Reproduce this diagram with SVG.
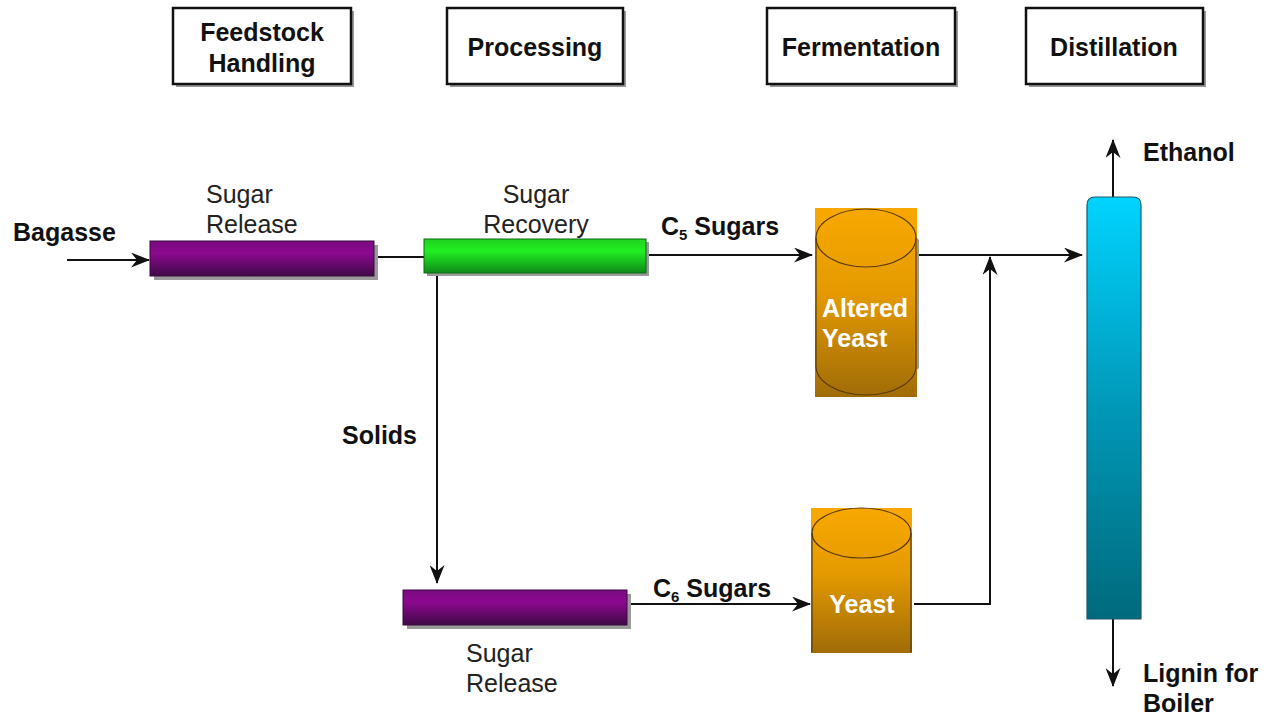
<svg xmlns="http://www.w3.org/2000/svg" width="1270" height="717" viewBox="0 0 1270 717">
<style>
.b{font-family:"Liberation Sans",Arial,sans-serif;font-weight:bold;font-size:25px;fill:#111}
.r{font-family:"Liberation Sans",Arial,sans-serif;font-size:25px;fill:#222}
.w{font-family:"Liberation Sans",Arial,sans-serif;font-weight:bold;font-size:25px;fill:#fff}
.hdr{fill:#fff;stroke:#111;stroke-width:2.5}
.sh{fill:#9a9a9a}
.ln{fill:none;stroke:#111;stroke-width:2}
.cyl{fill:none;stroke:#5a3c00;stroke-width:1.2}
</style>
<defs>
<marker id="ah" viewBox="0 0 19 15" refX="18" refY="7.5" markerWidth="19" markerHeight="15" markerUnits="userSpaceOnUse" orient="auto">
<path d="M0,0 L19,7.5 L0,15 L6,7.5 z" fill="#111"/>
</marker>
<linearGradient id="gp" x1="0" y1="0" x2="0" y2="1"><stop offset="0" stop-color="#7a0a80"/><stop offset="0.35" stop-color="#8c0890"/><stop offset="1" stop-color="#3e0a45"/></linearGradient>
<linearGradient id="gg" x1="0" y1="0" x2="0" y2="1"><stop offset="0" stop-color="#1fd01f"/><stop offset="0.35" stop-color="#22f022"/><stop offset="1" stop-color="#0e8a18"/></linearGradient>
<linearGradient id="go" x1="0" y1="0" x2="0" y2="1"><stop offset="0" stop-color="#f8a800"/><stop offset="0.45" stop-color="#e49a00"/><stop offset="1" stop-color="#a06c08"/></linearGradient>
<linearGradient id="gc" x1="0" y1="0" x2="0" y2="1"><stop offset="0" stop-color="#00d4ff"/><stop offset="0.5" stop-color="#0098b8"/><stop offset="1" stop-color="#006a7c"/></linearGradient>
</defs>

<g id="hdr-feedstock">
<rect class="sh" x="176" y="11" width="178" height="76"/>
<rect class="hdr" x="173" y="8" width="178" height="76"/>
<text class="b" x="262" y="41" text-anchor="middle">Feedstock</text>
<text class="b" x="262" y="72" text-anchor="middle">Handling</text>
</g>
<g id="hdr-processing">
<rect class="sh" x="450" y="11" width="176" height="76"/>
<rect class="hdr" x="447" y="8" width="176" height="76"/>
<text class="b" x="535" y="56" text-anchor="middle">Processing</text>
</g>
<g id="hdr-fermentation">
<rect class="sh" x="770" y="11" width="188" height="76"/>
<rect class="hdr" x="767" y="8" width="188" height="76"/>
<text class="b" x="861" y="56" text-anchor="middle">Fermentation</text>
</g>
<g id="hdr-distillation">
<rect class="sh" x="1029" y="11" width="177" height="76"/>
<rect class="hdr" x="1026" y="8" width="177" height="76"/>
<text class="b" x="1114" y="56" text-anchor="middle">Distillation</text>
</g>

<g id="connectors">
<line class="ln" x1="67" y1="260" x2="149" y2="260" marker-end="url(#ah)"/>
<line class="ln" x1="374" y1="257" x2="424" y2="257"/>
<line class="ln" x1="646" y1="255" x2="812" y2="255" marker-end="url(#ah)"/>
<line class="ln" x1="437" y1="273" x2="437" y2="583" marker-end="url(#ah)"/>
<line class="ln" x1="627" y1="604" x2="810" y2="604" marker-end="url(#ah)"/>
<line class="ln" x1="919" y1="255" x2="1082" y2="255" marker-end="url(#ah)"/>
<polyline class="ln" points="914,604 990,604 990,257" marker-end="url(#ah)"/>
<line class="ln" x1="1113" y1="197" x2="1113" y2="140" marker-end="url(#ah)"/>
<line class="ln" x1="1113" y1="619" x2="1113" y2="686" marker-end="url(#ah)"/>
</g>

<g id="bagasse">
<text class="b" x="13" y="241">Bagasse</text>
</g>

<g id="sugar-release-1">
<rect class="sh" x="154" y="245" width="224" height="35"/>
<rect x="150" y="241" width="224" height="35" fill="url(#gp)" stroke="#3a0a40" stroke-width="1"/>
<text class="r" x="206" y="203">Sugar</text>
<text class="r" x="206" y="233">Release</text>
</g>

<g id="sugar-recovery">
<rect class="sh" x="427" y="242" width="222" height="34"/>
<rect x="424" y="239" width="222" height="34" fill="url(#gg)" stroke="#0c6a12" stroke-width="1"/>
<text class="r" x="536" y="203" text-anchor="middle">Sugar</text>
<text class="r" x="536" y="233" text-anchor="middle">Recovery</text>
</g>

<g id="c5-label">
<text class="b" x="661" y="235">C<tspan font-size="15" dy="5">5</tspan><tspan dy="-5"> Sugars</tspan></text>
</g>

<g id="altered-yeast">
<rect x="815" y="208" width="102" height="189" fill="url(#go)"/>
<path d="M917,238 L919,240 L919,368 L917,370 Z" fill="#9a9a9a"/>
<path class="cyl" d="M816,238 L816,366 A50,29 0 0 0 916,366 L916,238"/>
<ellipse class="cyl" cx="866" cy="238" rx="50" ry="29" fill="#f8a800"/>
<text class="w" x="822" y="317">Altered</text>
<text class="w" x="822" y="347">Yeast</text>
</g>

<g id="solids">
<text class="b" x="342" y="444">Solids</text>
</g>

<g id="sugar-release-2">
<rect class="sh" x="407" y="594" width="224" height="35"/>
<rect x="403" y="590" width="224" height="35" fill="url(#gp)" stroke="#3a0a40" stroke-width="1"/>
<text class="r" x="466" y="662">Sugar</text>
<text class="r" x="466" y="692">Release</text>
</g>

<g id="c6-label">
<text class="b" x="653" y="597">C<tspan font-size="15" dy="5">6</tspan><tspan dy="-5"> Sugars</tspan></text>
</g>

<g id="yeast">
<rect x="811" y="508" width="101" height="145" fill="url(#go)"/>
<path class="cyl" d="M812,533 L812,652 M911,533 L911,652"/>
<ellipse class="cyl" cx="861.5" cy="533" rx="49.5" ry="25" fill="#f8a800"/>
<text class="w" x="862" y="613" text-anchor="middle">Yeast</text>
</g>

<g id="column">
<path d="M1087,619 L1087,205 Q1087,197 1095,197 L1133,197 Q1141,197 1141,205 L1141,619 Z" fill="url(#gc)" stroke="#1a5a66" stroke-width="1.2"/>
</g>

<g id="ethanol">
<text class="b" x="1143" y="161">Ethanol</text>
</g>
<g id="lignin">
<text class="b" x="1143" y="682">Lignin for</text>
<text class="b" x="1143" y="712">Boiler</text>
</g>
</svg>
